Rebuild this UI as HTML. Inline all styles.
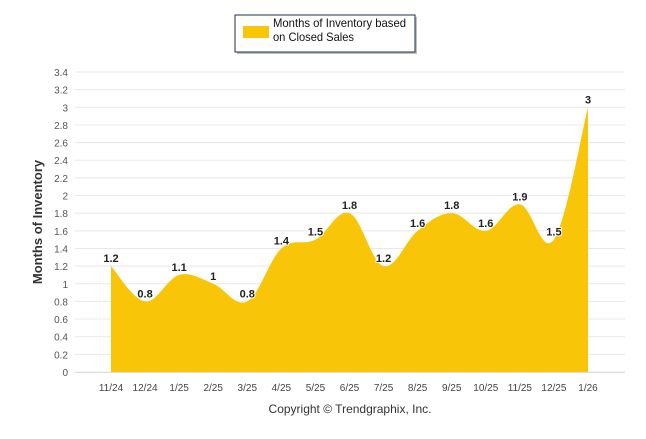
<!DOCTYPE html>
<html><head><meta charset="utf-8"><style>
body{margin:0;background:#fff;font-family:"Liberation Sans",sans-serif}
</style></head><body>
<svg id="c" width="646" height="434" xmlns="http://www.w3.org/2000/svg">
<rect x="0" y="0" width="646" height="434" fill="#fff"/>
<g>
<rect x="237" y="17" width="180" height="37" fill="#000" opacity="0.25"/>
<rect x="235" y="15" width="180" height="37" fill="#fff" stroke="#1f2d50" stroke-width="1"/>
<rect x="243" y="26" width="26" height="12" fill="#f8c508"/>
<text x="273" y="27" font-size="12" fill="#111" textLength="133" lengthAdjust="spacingAndGlyphs">Months of Inventory based</text>
<text x="273" y="41" font-size="12" fill="#111" textLength="81" lengthAdjust="spacingAndGlyphs">on Closed Sales</text>
</g>
<g id="grid"></g>
<path id="area" fill="#f8c508"/>
<g id="labels"></g>
<text transform="translate(42,222) rotate(-90)" text-anchor="middle" font-size="13" font-weight="bold" fill="#333">Months of Inventory</text>
<text x="350" y="413" text-anchor="middle" font-size="12" fill="#333">Copyright © Trendgraphix, Inc.</text>
</svg>
<script>
const categories=["11/24","12/24","1/25","2/25","3/25","4/25","5/25","6/25","7/25","8/25","9/25","10/25","11/25","12/25","1/26"];
const values=[1.2,0.8,1.1,1,0.8,1.4,1.5,1.8,1.2,1.6,1.8,1.6,1.9,1.5,3];
const yTicks=[0,0.2,0.4,0.6,0.8,1,1.2,1.4,1.6,1.8,2,2.2,2.4,2.6,2.8,3,3.2,3.4];
const NS="http://www.w3.org/2000/svg";
const x0=111,x1=588,yb=372,yt=72,ymax=3.4;
const X=i=>x0+(x1-x0)*i/(categories.length-1);
const Y=v=>yb-(yb-yt)*v/ymax;
const grid=document.getElementById('grid');
function mk(tag,attrs,parent){const e=document.createElementNS(NS,tag);for(const k in attrs)e.setAttribute(k,attrs[k]);parent.appendChild(e);return e;}
yTicks.forEach(t=>{
  const l=mk('line',{x1:75,x2:625,y1:Y(t),y2:Y(t),stroke:'#e8e8e8'},grid);
  
  
  const tx=mk('text',{x:68,y:Y(t)+4,'text-anchor':'end','font-size':'10',fill:'#555'},grid);
  
  
  tx.textContent=String(t);
});
mk('line',{x1:75,x2:625,y1:yb+0.5,y2:yb+0.5,stroke:'#ddd'},grid);
categories.forEach((c,i)=>{
  const t=mk('text',{x:X(i),y:391,'text-anchor':'middle','font-size':'10',fill:'#444'},grid);
  
  
  t.textContent=c;
});
const pts=values.map((v,i)=>[X(i),Y(v)]);
let d=`M${pts[0][0]},${yb} L${pts[0][0]},${pts[0][1]}`;
for(let i=0;i<pts.length-1;i++){
  const p0=pts[Math.max(0,i-1)],p1=pts[i],p2=pts[i+1],p3=pts[Math.min(pts.length-1,i+2)];
  const t=0.18;
  const c1=[p1[0]+(p2[0]-p0[0])*t,p1[1]+(p2[1]-p0[1])*t];
  const c2=[p2[0]-(p3[0]-p1[0])*t,p2[1]-(p3[1]-p1[1])*t];
  d+=` C${c1[0]},${c1[1]} ${c2[0]},${c2[1]} ${p2[0]},${p2[1]}`;
}
d+=` L${pts[pts.length-1][0]},${yb} Z`;
document.getElementById('area').setAttribute('d',d);
const lab=document.getElementById('labels');
values.forEach((v,i)=>{
  const t=mk('text',{x:X(i),y:Y(v)-4,'text-anchor':'middle','font-size':'11','font-weight':'bold',fill:'#222',stroke:'#fff','stroke-width':'2','paint-order':'stroke'},lab);
  
  
  t.textContent=String(v);
});
</script>
</body></html>
